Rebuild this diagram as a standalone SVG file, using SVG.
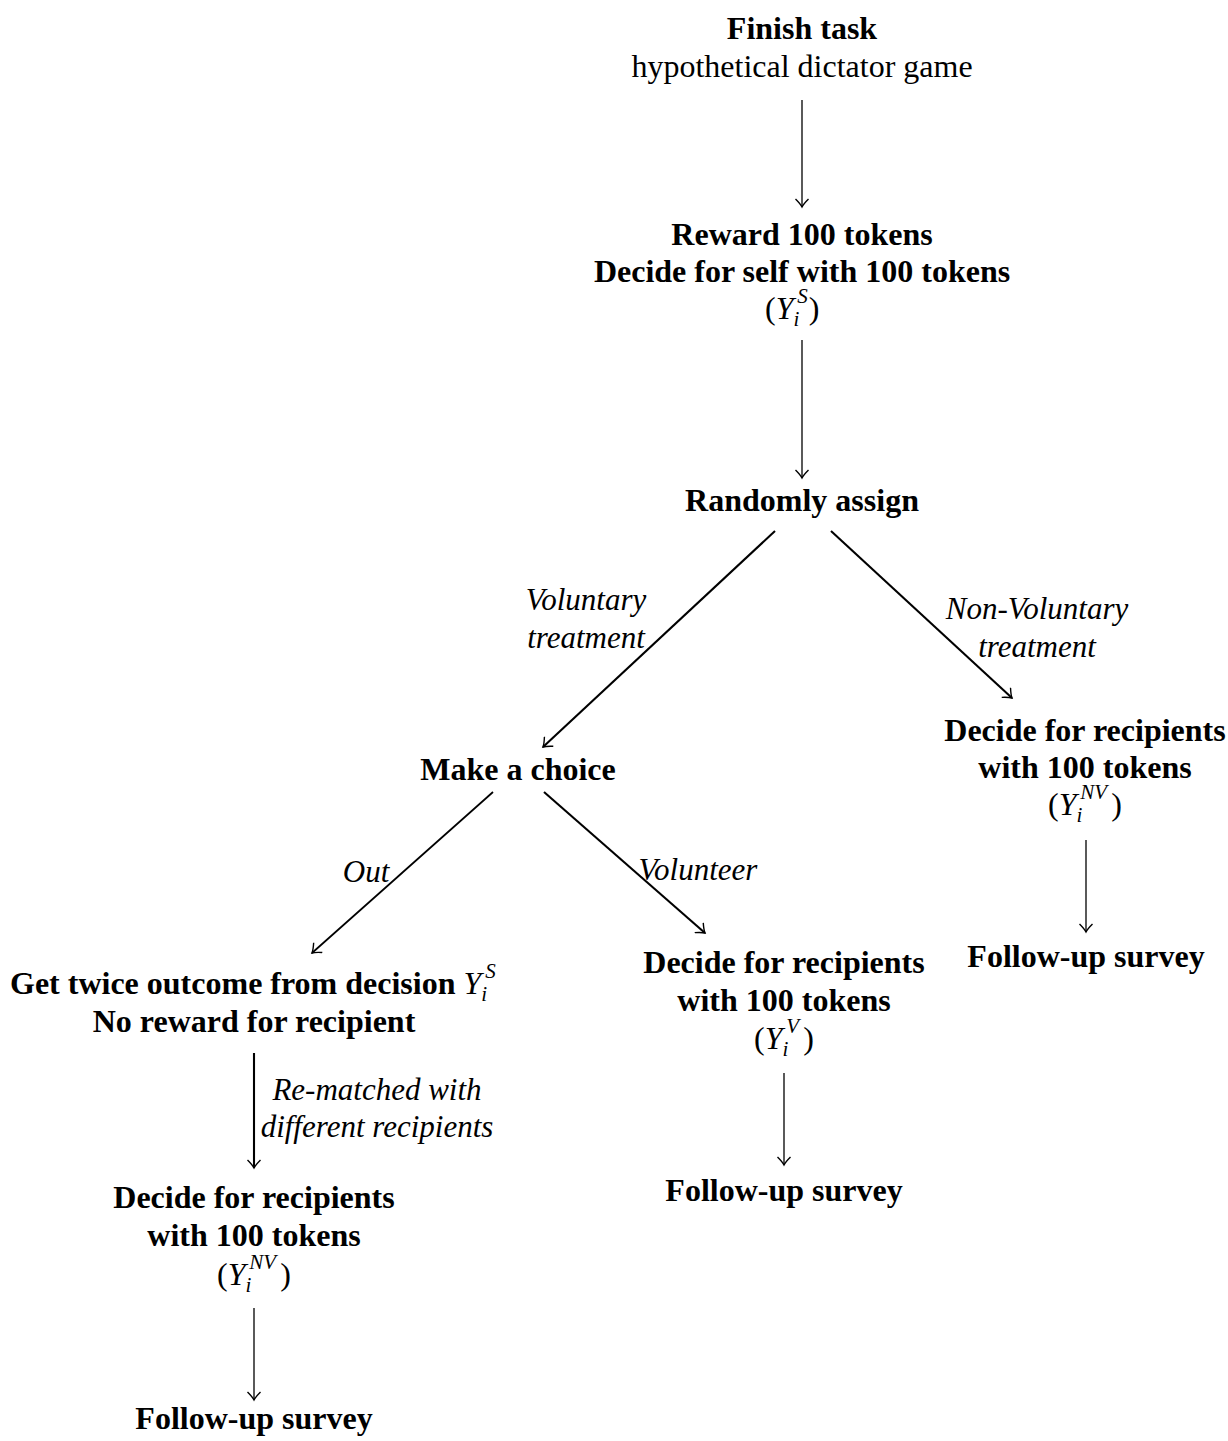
<svg xmlns="http://www.w3.org/2000/svg" width="1228" height="1441" viewBox="0 0 1228 1441">
<style>
text{font-family:"Liberation Serif","Times New Roman",serif;fill:#000}
.b{font-size:32px;font-weight:bold;text-anchor:middle}
.r{font-size:32px;text-anchor:middle}
.lab{font-size:31px;font-style:italic;text-anchor:middle}
.m{font-size:32px;font-weight:normal}
.mi{font-style:italic;font-weight:normal}
.s{font-size:21px;font-style:italic;font-weight:normal}
.thin{stroke:#000;stroke-width:1.3;fill:none}
.med{stroke:#000;stroke-width:1.7;fill:none}
.thick{stroke:#000;stroke-width:2.1;fill:none}
</style>
<defs>
<marker id="ah" viewBox="-10 -7 12 14" refX="0" refY="0" markerWidth="12" markerHeight="14" markerUnits="userSpaceOnUse" orient="auto">
<path d="M-8,-6.5 Q-3,-1.5 0,0 Q-3,1.5 -8,6.5" stroke="#000" stroke-width="1.4" fill="none"/>
</marker>
</defs>
<rect width="1228" height="1441" fill="#fff"/>
<g id="connectors">
<line class="thin" x1="802" y1="100" x2="802" y2="207" marker-end="url(#ah)"/>
<line class="thin" x1="802" y1="340" x2="802" y2="478" marker-end="url(#ah)"/>
<line class="thick" x1="775" y1="531" x2="543" y2="747" marker-end="url(#ah)"/>
<line class="thick" x1="831" y1="531" x2="1012" y2="698" marker-end="url(#ah)"/>
<line class="med" x1="493" y1="792" x2="312" y2="953" marker-end="url(#ah)"/>
<line class="thick" x1="544" y1="792" x2="705" y2="933" marker-end="url(#ah)"/>
<line class="thin" x1="1086" y1="840" x2="1086" y2="932" marker-end="url(#ah)"/>
<line class="thin" x1="784" y1="1073" x2="784" y2="1165" marker-end="url(#ah)"/>
<line class="thick" x1="254" y1="1053" x2="254" y2="1168" marker-end="url(#ah)"/>
<line class="thin" x1="254" y1="1308" x2="254" y2="1400" marker-end="url(#ah)"/>
<text class="lab" x="586" y="610">Voluntary</text>
<text class="lab" x="586" y="648">treatment</text>
<text class="lab" x="1037" y="619">Non-Voluntary</text>
<text class="lab" x="1037" y="657">treatment</text>
<text class="lab" x="366" y="882">Out</text>
<text class="lab" x="698" y="880">Volunteer</text>
<text class="lab" x="377" y="1100">Re-matched with</text>
<text class="lab" x="377" y="1137">different recipients</text>
</g>
<g id="finish">
<text class="b" x="802" y="39">Finish task</text>
<text class="r" x="802" y="77">hypothetical dictator game</text>
</g>
<g id="reward">
<text class="b" x="802" y="245">Reward 100 tokens</text>
<text class="b" x="802" y="282">Decide for self with 100 tokens</text>
<text class="m" x="765" y="319">(<tspan class="mi">Y</tspan><tspan class="s" dy="7">i</tspan><tspan class="s" dx="-2" dy="-23">S</tspan><tspan dx="1" dy="16">)</tspan></text>
</g>
<g id="randomly">
<text class="b" x="802" y="511">Randomly assign</text>
</g>
<g id="choice">
<text class="b" x="518" y="780">Make a choice</text>
</g>
<g id="nv-decide">
<text class="b" x="1085" y="741">Decide for recipients</text>
<text class="b" x="1085" y="778">with 100 tokens</text>
<text class="m" x="1048" y="815">(<tspan class="mi">Y</tspan><tspan class="s" dy="7">i</tspan><tspan class="s" dx="-2" dy="-23">NV</tspan><tspan dx="4" dy="16">)</tspan></text>
</g>
<g id="nv-survey">
<text class="b" x="1086" y="967">Follow-up survey</text>
</g>
<g id="v-decide">
<text class="b" x="784" y="973">Decide for recipients</text>
<text class="b" x="784" y="1011">with 100 tokens</text>
<text class="m" x="754" y="1049">(<tspan class="mi">Y</tspan><tspan class="s" dy="7">i</tspan><tspan class="s" dx="-2" dy="-23">V</tspan><tspan dx="4" dy="16">)</tspan></text>
</g>
<g id="v-survey">
<text class="b" x="784" y="1201">Follow-up survey</text>
</g>
<g id="out">
<text class="b" x="10" y="994" style="text-anchor:start">Get twice outcome from decision <tspan class="mi">Y</tspan><tspan class="s" dy="7">i</tspan><tspan class="s" dx="-2" dy="-23">S</tspan></text>
<text class="b" x="254" y="1032">No reward for recipient</text>
</g>
<g id="out-decide">
<text class="b" x="254" y="1208">Decide for recipients</text>
<text class="b" x="254" y="1246">with 100 tokens</text>
<text class="m" x="217" y="1285">(<tspan class="mi">Y</tspan><tspan class="s" dy="7">i</tspan><tspan class="s" dx="-2" dy="-23">NV</tspan><tspan dx="4" dy="16">)</tspan></text>
</g>
<g id="out-survey">
<text class="b" x="254" y="1429">Follow-up survey</text>
</g>
</svg>
